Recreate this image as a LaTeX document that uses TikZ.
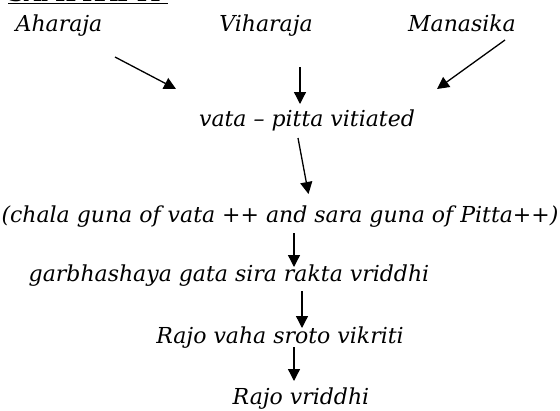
\documentclass[tikz,border=0pt]{standalone}
\usepackage{fontspec}
\setmainfont{DejaVu Serif}
\usetikzlibrary{arrows.meta}
\begin{document}
\begin{tikzpicture}[x=1pt,y=-1pt,
  lbl/.style={anchor=base,inner sep=0pt,font=\fontsize{22}{26}\selectfont\itshape},
  ttl/.style={anchor=base west,inner sep=0pt,font=\fontsize{22}{26}\selectfont\bfseries},
  arr/.style={line width=1.3pt,-{Triangle[length=12pt,width=12pt]}}]
\useasboundingbox (0,0) rectangle (560,410);
\clip (0,0) rectangle (560,410);
% title (cut off at top)
\node[ttl] (title) at (8,1.5) {SAMPRAPTI};
\draw[line width=1.4pt] (title.base west) ++(0,2.2) coordinate (ul1) -- (168,0 |- ul1);
% causes
\node[lbl] (ahara) at (59,31) {Aharaja};
\node[lbl] (vihara) at (266,31) {Viharaja};
\node[lbl] (manas) at (462,31) {Manasika};
\node[lbl] (vata) at (307,126) {vata -- pitta vitiated};
\node[lbl] (chala) at (280,222) {(chala guna of vata ++ and sara guna of Pitta++)};
\node[lbl] (garbha) at (229,281) {garbhashaya gata sira rakta vriddhi};
\node[lbl] (rvs) at (280,343) {Rajo vaha sroto vikriti};
\node[lbl] (rv) at (301,404) {Rajo vriddhi};
% arrow endpoints
\coordinate (a1s) at (115,57); \coordinate (a1e) at (176,89);
\coordinate (a2s) at (300,67); \coordinate (a2e) at (300,104);
\coordinate (a3s) at (505,40); \coordinate (a3e) at (437,89);
\coordinate (a4s) at (298,138); \coordinate (a4e) at (308.5,194);
\coordinate (a5s) at (294,233); \coordinate (a5e) at (294,267);
\coordinate (a6s) at (302,291); \coordinate (a6e) at (302,328);
\coordinate (a7s) at (294,347); \coordinate (a7e) at (294,381);
\draw[arr] (a1s) -- (a1e);
\draw[arr] (a2s) -- (a2e);
\draw[arr] (a3s) -- (a3e);
\draw[arr] (a4s) -- (a4e);
\draw[arr] (a5s) -- (a5e);
\draw[arr] (a6s) -- (a6e);
\draw[arr] (a7s) -- (a7e);
\end{tikzpicture}
\end{document}
